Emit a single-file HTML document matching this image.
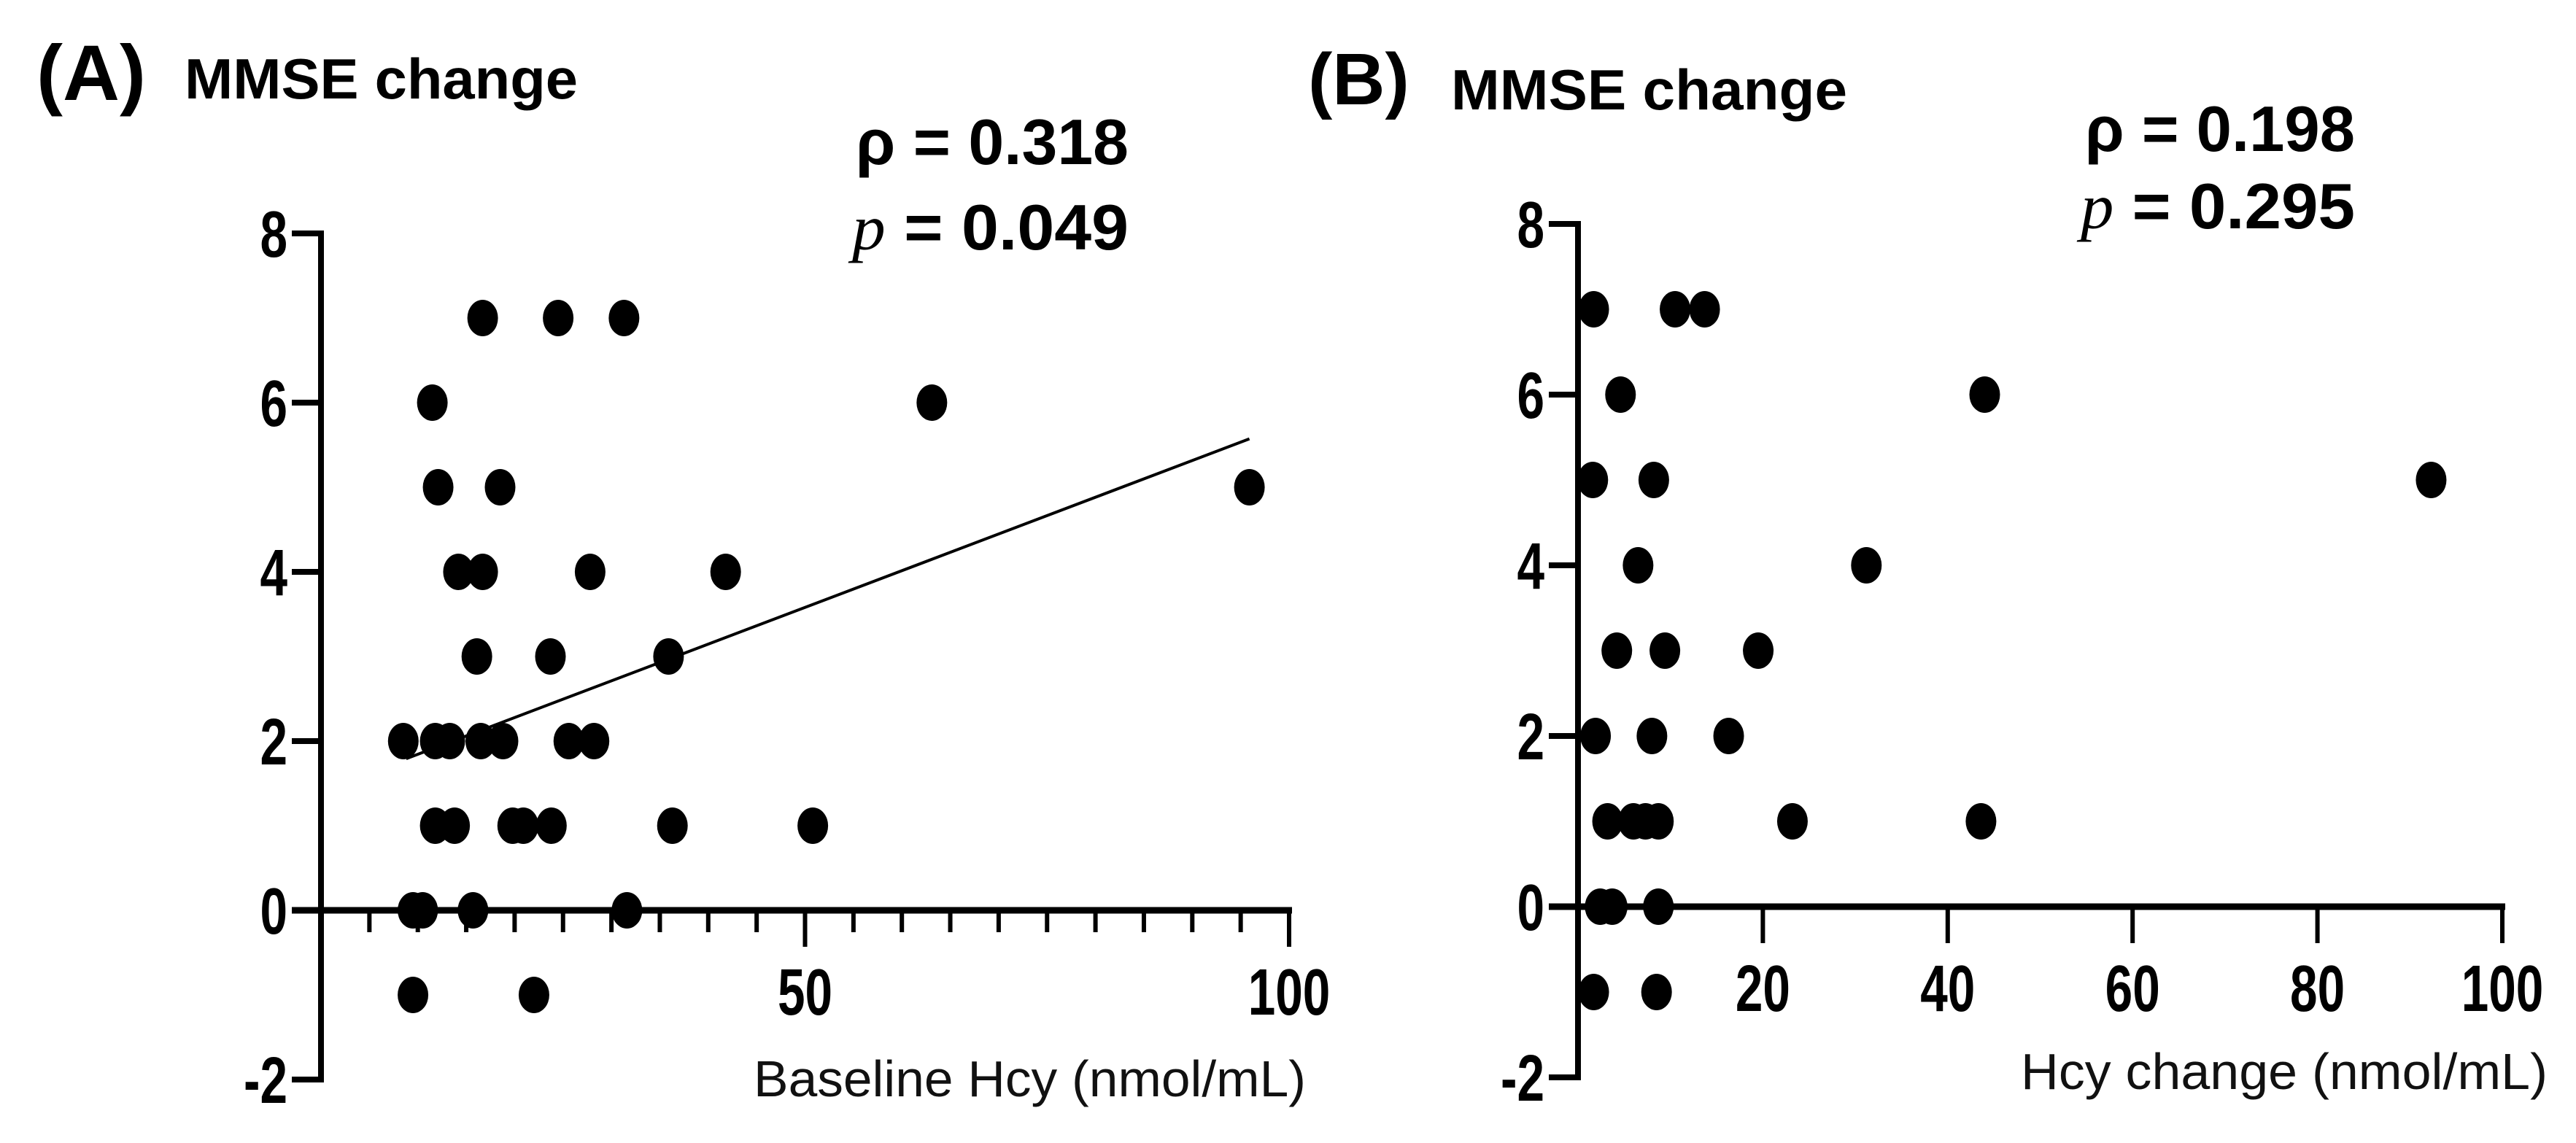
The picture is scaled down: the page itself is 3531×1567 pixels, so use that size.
<!DOCTYPE html>
<html><head><meta charset="utf-8"><style>
html,body{margin:0;padding:0;background:#fff;}
svg{display:block;}
.t{font-family:"Liberation Sans",sans-serif;font-weight:bold;fill:#000;}
.n{font-family:"Liberation Sans",sans-serif;fill:#111;}
</style></head><body>
<svg id="chart" width="3531" height="1567" viewBox="0 0 3531 1567" xmlns="http://www.w3.org/2000/svg">
<g id="panelA"></g>
<g id="panelB"></g>
</svg>
<script>
// Panel A data (Baseline Hcy vs MMSE change)
const aX = [16.7,24.5,31.3, 11.5,63.1, 12.1,18.5,95.9, 14.2,16.7,27.8,41.8, 16.1,23.7,35.9, 8.5,11.8,13.3,16.5,18.8,25.6,28.2, 11.8,13.8,19.8,20.9,23.8,36.3,50.8, 9.5,10.5,15.7,31.6, 9.5,22.0];
const aY = [7,7,7, 6,6, 5,5,5, 4,4,4,4, 3,3,3, 2,2,2,2,2,2,2, 1,1,1,1,1,1,1, 0,0,0,0, -1,-1];
const aFit = [1.41, 0.0434]; // intercept, slope
const aFitRange = [8.8, 95.9];
const aXTicks = [50, 100];
const aYTicks = [8, 6, 4, 2, 0, -2];
// Panel B data (Hcy change vs MMSE change)
const bX = [1.7,10.5,13.7, 4.6,44.0, 1.6,8.2,92.3, 6.5,31.2, 4.2,9.4,19.5, 1.9,8.0,16.3, 3.2,6.0,7.3,8.7,23.2,43.6, 2.4,3.7,8.7, 1.7,8.5];
const bY = [7,7,7, 6,6, 5,5,5, 4,4, 3,3,3, 2,2,2, 1,1,1,1,1,1, 0,0,0, -1,-1];
const bXTicks = [20, 40, 60, 80, 100];
const bYTicks = [8, 6, 4, 2, 0, -2];

const NS = "http://www.w3.org/2000/svg";
function mk(parent, tag, attrs, text) {
  const e = document.createElementNS(NS, tag);
  for (const k in attrs) e.setAttribute(k, attrs[k]);
  if (text !== undefined) e.textContent = text;
  parent.appendChild(e);
  return e;
}

function panel(g, cfg) {
  const sx = v => cfg.x0 + v * cfg.kx;
  const sy = v => cfg.y0 - v * cfg.ky;
  const ya = mk(g, 'line', {x1: cfg.x0, y1: sy(8) - 4, x2: cfg.x0, y2: sy(-2) + 4, stroke: '#000', 'stroke-width': 8});
  
  
  cfg.yTicks.forEach(v => {
    const tk = mk(g, 'line', {x1: cfg.x0 - 40, y1: sy(v), x2: cfg.x0, y2: sy(v), stroke: '#000', 'stroke-width': 8});
    
    
    const lb = mk(g, 'text', {x: cfg.x0 - 46, y: sy(v) + 32, 'text-anchor': 'end', 'font-size': 90, class: 't', transform: `translate(${(cfg.x0 - 46) * 0.25},0) scale(0.75,1)`}, String(v));
    
    
  });
  const xa = mk(g, 'line', {x1: cfg.x0 - 40, y1: cfg.y0, x2: sx(100) + 4, y2: cfg.y0, stroke: '#000', 'stroke-width': 9});
  
  
  if (cfg.minor) {
    for (let v = cfg.minor; v < 100; v += cfg.minor) {
      if (cfg.xTicks.indexOf(v) >= 0) continue;
      const m = mk(g, 'line', {x1: sx(v), y1: cfg.y0, x2: sx(v), y2: cfg.y0 + 30, stroke: '#000', 'stroke-width': 6});
      
      
    }
  }
  cfg.xTicks.forEach(v => {
    const tk = mk(g, 'line', {x1: sx(v), y1: cfg.y0, x2: sx(v), y2: cfg.y0 + 50, stroke: '#000', 'stroke-width': 6});
    
    
    const cx = sx(v);
    const lb = mk(g, 'text', {x: cx, y: cfg.y0 + 143, 'text-anchor': 'middle', 'font-size': 90, class: 't', transform: `translate(${cx * 0.25},0) scale(0.75,1)`}, String(v));
    
    
  });
  if (cfg.fit) {
    const fl = mk(g, 'line', {x1: sx(cfg.fitRange[0]), y1: sy(cfg.fit[0] + cfg.fit[1] * cfg.fitRange[0]), x2: sx(cfg.fitRange[1]), y2: sy(cfg.fit[0] + cfg.fit[1] * cfg.fitRange[1]), stroke: '#000', 'stroke-width': 4});
    
    
  }
  cfg.xs.forEach((xv, i) => {
    const p = mk(g, 'ellipse', {cx: sx(xv), cy: sy(cfg.ys[i]), rx: 21, ry: 25, fill: '#000'});
    
    
  });
}

panel(document.getElementById('panelA'), {x0: 440, kx: 13.27, y0: 1248, ky: 116, xs: aX, ys: aY, xTicks: aXTicks, yTicks: aYTicks, minor: 5, fit: aFit, fitRange: aFitRange});
panel(document.getElementById('panelB'), {x0: 2163, kx: 12.67, y0: 1243, ky: 117, xs: bX, ys: bY, xTicks: bXTicks, yTicks: bYTicks, minor: 0});
</script>
<svg style="position:absolute;left:0;top:0" width="3531" height="1567" xmlns="http://www.w3.org/2000/svg">
<text class="t" x="50" y="137" font-size="108">(A)</text>
<text class="t" x="253" y="135" font-size="78" textLength="539" lengthAdjust="spacingAndGlyphs">MMSE change</text>
<text class="t" x="1173" y="225" font-size="88" textLength="374" lengthAdjust="spacingAndGlyphs">ρ = 0.318</text>
<text class="t" x="1168" y="342" font-size="88" textLength="379" lengthAdjust="spacingAndGlyphs"><tspan font-family="Liberation Serif" font-style="italic" font-weight="normal">p</tspan> = 0.049</text>
<text class="n" x="1033" y="1503" font-size="70" textLength="757" lengthAdjust="spacingAndGlyphs">Baseline Hcy  (nmol/mL)</text>

<text class="t" x="1793" y="143" font-size="100">(B)</text>
<text class="t" x="1989" y="150" font-size="78" textLength="543" lengthAdjust="spacingAndGlyphs">MMSE change</text>
<text class="t" x="2858" y="207" font-size="88" textLength="370" lengthAdjust="spacingAndGlyphs">ρ = 0.198</text>
<text class="t" x="2852" y="313" font-size="88" textLength="376" lengthAdjust="spacingAndGlyphs"><tspan font-family="Liberation Serif" font-style="italic" font-weight="normal">p</tspan> = 0.295</text>
<text class="n" x="2770" y="1493" font-size="70" textLength="722" lengthAdjust="spacingAndGlyphs">Hcy change (nmol/mL)</text>
</svg>
</body></html>
